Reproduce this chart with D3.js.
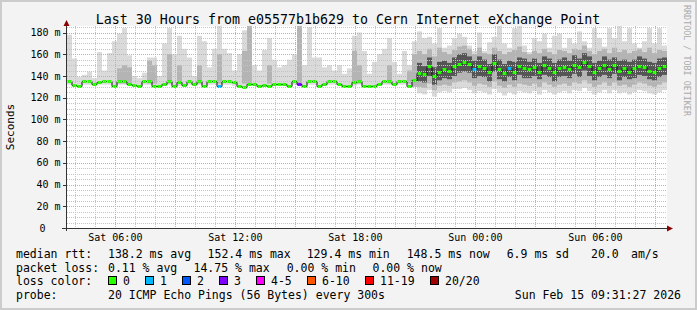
<!DOCTYPE html>
<html>
<head>
<meta charset="utf-8">
<script src="https://cdn.jsdelivr.net/npm/d3@7"></script>
<style>
body { margin: 0; background: #f3f3f3; }
text { font-family: "DejaVu Sans Mono", monospace; }
</style>
</head>
<body>
<svg id="chart" width="697" height="310"></svg>
<script>
var _ = null;

// 30 hours, one bin every 15 minutes (120 bins)
var startTime = new Date(2026, 1, 14, 3, 35);
var binMinutes = 15;

// median rtt (ms) per bin
var median = [
135,132,131,135,135,133,134,135,135,131,
135,135,133,132,131,135,135,131,131,133,
135,131,134,132,135,133,135,131,135,135,
131,135,135,134,131,130,133,133,131,132,
131,133,133,133,131,135,133,131,135,135,
131,133,135,135,133,131,131,134,135,131,
131,131,133,135,135,133,135,135,131,136,
143,142,149,140,144,146,145,149,151,153,
151,146,149,147,144,152,146,143,147,144,
149,147,146,148,144,150,147,144,147,148,
146,150,148,153,149,144,147,150,146,150,
145,147,144,147,149,148,145,144,147,149];

// outer smoke (slowest / fastest ping)
var smokeMax = [
178,156,139,141,144,138,162,145,161,172,
179,184,159,140,138,143,157,157,140,170,
184,160,177,165,157,140,177,172,148,165,
186,165,161,145,160,182,186,150,145,164,
175,155,148,150,155,160,186,150,185,157,
157,148,150,145,150,142,147,177,180,163,
142,153,160,165,175,153,142,163,150,172,
181,175,176,170,184,166,168,175,179,176,
168,163,180,163,171,176,186,170,166,184,
186,168,162,175,172,179,166,177,179,166,
175,170,181,172,166,184,175,167,184,175,
186,172,184,170,166,172,184,170,184,168];

var smokeMin = [
132,130,130,132,132,131,132,132,132,130,
132,132,131,130,130,132,132,130,130,131,
132,130,131,130,132,131,132,130,132,132,
130,132,132,131,130,129,131,131,130,130,
130,131,131,131,130,132,131,130,132,132,
130,131,132,132,131,130,130,131,132,130,
130,130,131,132,132,131,132,132,130,131,
124,123,127,121,125,126,125,128,128,129,
127,124,126,125,123,128,125,122,125,123,
126,125,124,126,123,127,125,123,125,126,
124,127,126,129,126,123,125,127,124,127,
124,125,123,125,127,126,124,123,125,127];

// middle smoke band
var midHi = [
_,_,_,_,_,_,_,_,_,_,
147,150,148,_,_,_,154,150,_,_,
160,_,150,_,_,_,150,_,_,_,
160,_,_,_,_,163,186,_,_,_,
150,_,_,_,_,_,186,_,_,_,
_,_,_,_,_,_,_,163,150,_,
_,_,_,_,150,_,_,_,145,160,
163,160,165,158,166,162,160,164,167,168,
165,160,166,161,160,166,163,160,162,164,
167,162,160,163,161,165,162,160,164,163,
161,165,164,168,163,160,163,165,161,166,
162,164,161,163,165,162,166,161,164,163];

var midLo = [
_,_,_,_,_,_,_,_,_,_,
133,133,133,_,_,_,133,133,_,_,
133,_,133,_,_,_,133,_,_,_,
133,_,_,_,_,133,133,_,_,_,
133,_,_,_,_,_,133,_,_,_,
_,_,_,_,_,_,_,133,133,_,
_,_,_,_,133,_,_,_,133,130,
130,129,133,127,131,132,131,134,135,136,
134,131,133,132,130,135,131,129,132,130,
133,132,131,133,130,134,132,130,132,133,
131,134,133,136,133,130,132,134,131,134,
131,132,130,132,134,133,131,130,132,134];

// inner (dark) smoke band
var coreHi = [
_,_,_,_,_,_,_,_,_,_,
_,_,_,_,_,_,_,_,_,_,
_,_,_,_,_,_,_,_,_,_,
_,_,_,_,_,_,_,_,_,_,
_,_,_,_,_,_,_,_,_,_,
_,_,_,_,_,_,_,_,_,_,
_,_,_,_,_,_,_,_,_,_,
152,149,157,148,153,154,152,157,160,161,
158,154,158,155,151,160,155,151,154,153,
157,156,153,156,152,158,156,152,155,157,
154,159,156,161,158,152,154,158,155,157,
154,155,153,155,158,156,153,152,156,157];

var coreLo = [
_,_,_,_,_,_,_,_,_,_,
_,_,_,_,_,_,_,_,_,_,
_,_,_,_,_,_,_,_,_,_,
_,_,_,_,_,_,_,_,_,_,
_,_,_,_,_,_,_,_,_,_,
_,_,_,_,_,_,_,_,_,_,
_,_,_,_,_,_,_,_,_,_,
135,134,140,132,136,138,137,140,143,144,
143,138,140,139,135,144,137,135,139,136,
141,138,138,140,137,141,139,135,139,140,
138,142,139,145,140,136,139,141,138,142,
136,139,137,138,141,140,137,136,139,141];

// lost pings (of 20) per bin
var loss = [
0,0,0,0,0,0,0,0,0,0,
0,0,0,0,0,0,0,0,0,0,
0,0,0,0,0,0,0,0,0,0,
1,0,0,0,0,0,0,0,0,0,
0,0,0,0,0,0,3,0,0,0,
0,0,0,0,0,0,0,0,0,0,
0,0,0,0,0,0,0,0,0,0,
0,0,0,0,0,0,0,0,0,0,
0,1,0,0,0,0,0,0,1,0,
0,0,0,0,0,0,0,0,0,0,
0,0,0,0,0,0,0,0,0,0,
0,0,0,0,0,0,0,0,0,0];

var lossLabels = ["0", "1", "2", "3", "4-5", "6-10", "11-19", "20/20"];
var lossColors = ["#26ff00", "#00b8ff", "#0059ff", "#7e00ff", "#ff00ff", "#ff5500", "#ff0000", "#a10000"];

var yTicks = [0, 20, 40, 60, 80, 100, 120, 140, 160, 180];

var titleText = "Last 30 Hours from e05577b1b629 to Cern Internet eXchange Point";
var rttStats = ["138.2 ms avg", "152.4 ms max", "129.4 ms min", "148.5 ms now", "6.9 ms sd", "20.0", "am/s"];
var lossStats = ["0.11 % avg", "14.75 % max", "0.00 % min", "0.00 % now"];
var probeText = "20 ICMP Echo Pings (56 Bytes) every 300s";
var stampText = "Sun Feb 15 09:31:27 2026";

// ---------------------------------------------------------------
var svg = d3.select("#chart");
var plotL = 67, plotR = 667, plotT = 26, plotB = 228;

function binTime(i) {
    return new Date(startTime.getTime() + i * binMinutes * 60000);
}
var endTime = binTime(median.length);

var x = d3.scaleTime().domain([startTime, endTime]).range([plotL, plotR]);
var y = d3.scaleLinear().domain([0, 186]).range([plotB, plotT]);

function lossIndex(l) {
    if (l <= 3) return l;
    if (l <= 5) return 4;
    if (l <= 10) return 5;
    if (l < 20) return 6;
    return 7;
}

// background and border
svg.append("rect").attr("width", 697).attr("height", 310).attr("fill", "#f3f3f3");
svg.append("rect").attr("x", 1).attr("y", 1).attr("width", 695).attr("height", 308)
    .attr("fill", "none").attr("stroke", "#cccccc").attr("stroke-width", 2);

// canvas
svg.append("rect").attr("x", plotL).attr("y", plotT)
    .attr("width", plotR - plotL).attr("height", plotB - plotT).attr("fill", "#ffffff");

svg.append("clipPath").attr("id", "plotclip").append("rect")
    .attr("x", plotL).attr("y", plotT).attr("width", plotR - plotL).attr("height", plotB - plotT);

var plot = svg.append("g").attr("clip-path", "url(#plotclip)");

// smoke bands, drawn as one rect per bin
function drawBand(lo, hi, color) {
    var idx = d3.range(median.length).filter(function(i) {
        return lo[i] != null && hi[i] != null;
    });
    plot.append("g").selectAll("rect")
        .data(idx)
        .join("rect")
        .attr("x", function(i) { return x(binTime(i)); })
        .attr("width", function(i) { return x(binTime(i + 1)) - x(binTime(i)); })
        .attr("y", function(i) { return y(hi[i]); })
        .attr("height", function(i) { return y(lo[i]) - y(hi[i]); })
        .attr("fill", color);
}
drawBand(smokeMin, smokeMax, "#dadada");
drawBand(midLo, midHi, "#b4b4b4");
drawBand(coreLo, coreHi, "#555555");

// grid
var grid = svg.append("g");
var hours = x.ticks(d3.timeHour.every(1));
var minorY = d3.range(5, 186, 5).filter(function(v) { return v % 20 != 0; });

grid.selectAll(".vminor")
    .data(hours.filter(function(d) { return d.getHours() % 3 != 0; }))
    .join("line")
    .attr("x1", function(d) { return Math.round(x(d)) + 0.5; })
    .attr("x2", function(d) { return Math.round(x(d)) + 0.5; })
    .attr("y1", plotT).attr("y2", plotB)
    .attr("stroke", "#c4c4c4").attr("stroke-dasharray", "1,1");

grid.selectAll(".hminor")
    .data(minorY)
    .join("line")
    .attr("x1", plotL).attr("x2", plotR)
    .attr("y1", function(v) { return Math.round(y(v)) + 0.5; })
    .attr("y2", function(v) { return Math.round(y(v)) + 0.5; })
    .attr("stroke", "#c4c4c4").attr("stroke-dasharray", "1,1");

grid.selectAll(".vmajor")
    .data(hours.filter(function(d) { return d.getHours() % 3 == 0; }))
    .join("line")
    .attr("x1", function(d) { return Math.round(x(d)) + 0.5; })
    .attr("x2", function(d) { return Math.round(x(d)) + 0.5; })
    .attr("y1", plotT).attr("y2", plotB)
    .attr("stroke", "#ec9c9c").attr("stroke-dasharray", "1,1");

grid.selectAll(".hmajor")
    .data(yTicks.filter(function(v) { return v > 0; }))
    .join("line")
    .attr("x1", plotL).attr("x2", plotR)
    .attr("y1", function(v) { return Math.round(y(v)) + 0.5; })
    .attr("y2", function(v) { return Math.round(y(v)) + 0.5; })
    .attr("stroke", "#ec9c9c").attr("stroke-dasharray", "1,1");

// median line: dark step line, then loss coloured segments
var pts = d3.range(median.length + 1).map(function(i) {
    return [binTime(i), median[Math.min(i, median.length - 1)]];
});
plot.append("path")
    .attr("d", d3.line()
        .x(function(d) { return x(d[0]); })
        .y(function(d) { return Math.round(y(d[1])) + 0.5; })
        .curve(d3.curveStepAfter)(pts))
    .attr("fill", "none").attr("stroke", "#111").attr("stroke-width", 1);

plot.append("g").selectAll("line")
    .data(d3.range(median.length))
    .join("line")
    .attr("x1", function(i) { return x(binTime(i)) + 0.5; })
    .attr("x2", function(i) { return x(binTime(i + 1)) - 0.5; })
    .attr("y1", function(i) { return Math.round(y(median[i])) + 0.5; })
    .attr("y2", function(i) { return Math.round(y(median[i])) + 0.5; })
    .attr("stroke", function(i) { return lossColors[lossIndex(loss[i])]; })
    .attr("stroke-width", 3);

// axes
var axisColor = "#333333", arrowColor = "#8b0000";
svg.append("line").attr("x1", plotL - 5).attr("x2", plotR + 3)
    .attr("y1", plotB + 0.5).attr("y2", plotB + 0.5).attr("stroke", axisColor);
svg.append("line").attr("x1", plotL - 0.5).attr("x2", plotL - 0.5)
    .attr("y1", plotB + 3).attr("y2", plotT - 3).attr("stroke", axisColor);
svg.append("path")
    .attr("d", "M" + (plotL - 3.5) + "," + plotT + "L" + (plotL - 0.5) + "," + (plotT - 6) + "L" + (plotL + 2.5) + "," + plotT + "Z")
    .attr("fill", arrowColor);
svg.append("path")
    .attr("d", "M" + plotR + "," + (plotB - 2.5) + "L" + (plotR + 6) + "," + (plotB + 0.5) + "L" + plotR + "," + (plotB + 3.5) + "Z")
    .attr("fill", arrowColor);

// y ticks and labels
svg.append("g").selectAll("line")
    .data(yTicks)
    .join("line")
    .attr("x1", plotL - 4).attr("x2", plotL)
    .attr("y1", function(v) { return Math.round(y(v)) + 0.5; })
    .attr("y2", function(v) { return Math.round(y(v)) + 0.5; })
    .attr("stroke", axisColor);

svg.append("g").style("font-size", "10px").attr("fill", "#000")
    .selectAll("text")
    .data(yTicks)
    .join("text")
    .attr("x", function(v) { return v == 0 ? 45.5 : 60.5; })
    .attr("y", function(v) { return y(v) + 3.6; })
    .attr("text-anchor", "end")
    .text(function(v) { return v == 0 ? "0" : v + " m"; });

// x labels
var fmt = d3.timeFormat("%a %H:%M");
svg.append("g").selectAll("text")
    .data(x.ticks(d3.timeHour.every(6)))
    .join("text")
    .attr("x", function(d) { return x(d); })
    .attr("y", 241)
    .attr("text-anchor", "middle")
    .style("font-size", "10px")
    .text(function(d) { return fmt(d); });

// titles
svg.append("text").attr("x", 348).attr("y", 24).attr("text-anchor", "middle")
    .style("font-size", "13.3px").text(titleText);
svg.append("text").attr("transform", "translate(14,127) rotate(-90)")
    .attr("text-anchor", "middle").style("font-size", "11px").text("Seconds");
svg.append("text").attr("transform", "translate(683.5,5) rotate(90)")
    .attr("fill", "#aaaaaa").style("font-size", "8.4px").text("RRDTOOL / TOBI OETIKER");

// legend
var leg = svg.append("g").style("font-size", "11.5px").attr("fill", "#000");
var rowY = [258, 271.5, 285, 298.5];
var rttX = [108, 207.6, 306.7, 406.7, 506.7, 591, 631];
var lossX = [108, 193.5, 286.7, 372.5];

leg.append("text").attr("x", 16).attr("y", rowY[0]).text("median rtt:");
leg.selectAll(".rtt").data(rttStats).join("text")
    .attr("x", function(d, i) { return rttX[i]; }).attr("y", rowY[0]).text(function(d) { return d; });

leg.append("text").attr("x", 16).attr("y", rowY[1]).text("packet loss:");
leg.selectAll(".pl").data(lossStats).join("text")
    .attr("x", function(d, i) { return lossX[i]; }).attr("y", rowY[1]).text(function(d) { return d; });

leg.append("text").attr("x", 16).attr("y", rowY[2]).text("loss color:");
var charW = 7.0, sx = 108;
lossLabels.forEach(function(lbl, i) {
    leg.append("rect").attr("x", sx + 0.5).attr("y", rowY[2] - 8.5).attr("width", 8).attr("height", 8)
        .attr("fill", lossColors[i]).attr("stroke", "#000").attr("stroke-width", 1);
    leg.append("text").attr("x", sx + 15).attr("y", rowY[2]).text(lbl);
    sx = sx + 15 + lbl.length * charW + 15;
});

leg.append("text").attr("x", 16).attr("y", rowY[3]).text("probe:");
leg.append("text").attr("x", 108).attr("y", rowY[3]).text(probeText);
leg.append("text").attr("x", 681).attr("y", rowY[3]).attr("text-anchor", "end").text(stampText);
</script>
</body>
</html>
